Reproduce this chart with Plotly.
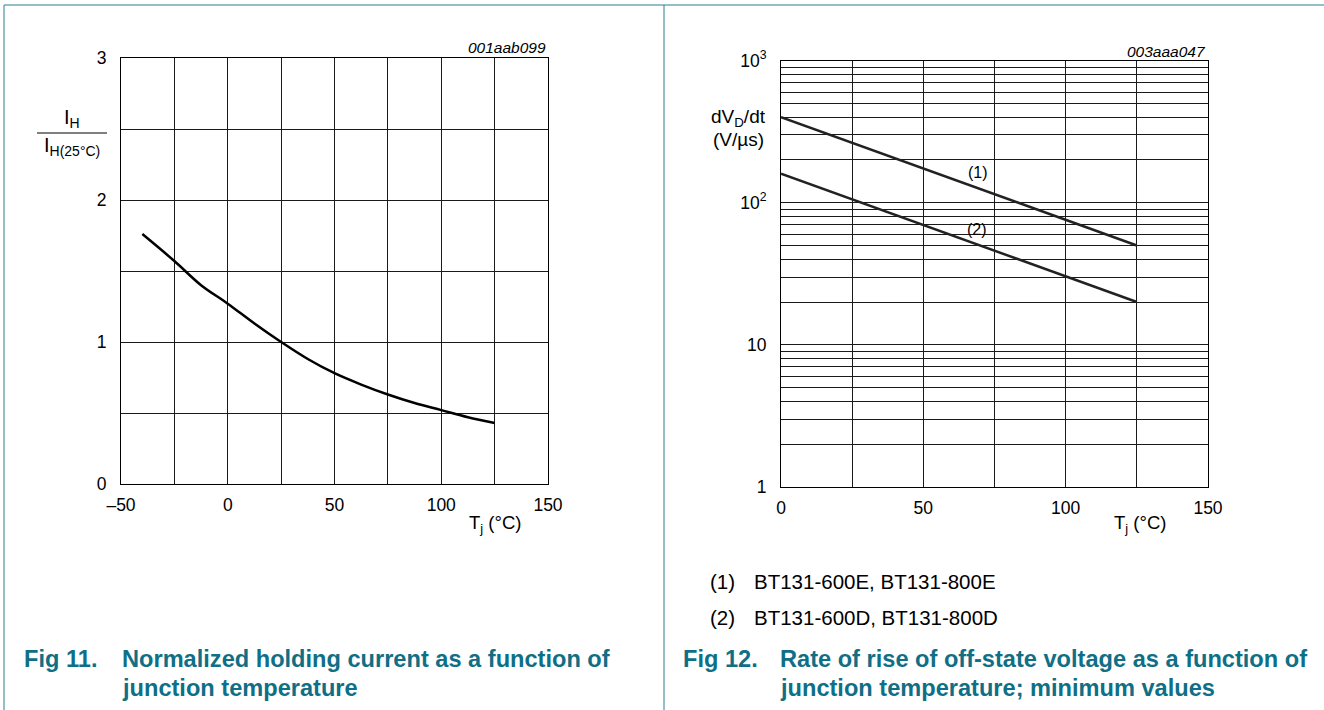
import plotly.graph_objects as go

# ---- data -------------------------------------------------------------
# Fig 11: normalized holding current vs junction temperature
tj_ih = [-40, -25, -12.5, 0, 12.5, 25, 37.5, 50, 62.5, 75, 87.5, 100, 112.5, 125]
ih_norm = [1.76, 1.57, 1.40, 1.27, 1.13, 1.00, 0.88, 0.78, 0.70, 0.63, 0.57, 0.52, 0.47, 0.43]

# Fig 12: minimum dVD/dt vs junction temperature (log scale)
tj_dv = [0, 125]
dvdt_e = [400, 50]   # (1) BT131-600E, BT131-800E
dvdt_d = [160, 20]   # (2) BT131-600D, BT131-800D

left_xticks = [-50, 0, 50, 100, 150]
left_xtext = ["\u201350", "0", "50", "100", "150"]
left_yticks = [0, 1, 2, 3]
right_xticks = [0, 50, 100, 150]
right_yticks = [1, 10, 100, 1000]
right_ytext = ["1", "10", "10<sup>2</sup>", "10<sup>3</sup>"]
right_yminor = [m * d for d in (1, 10, 100) for m in range(2, 10)]

legend_rows = [("(1)", "BT131-600E, BT131-800E"), ("(2)", "BT131-600D, BT131-800D")]

# ---- page geometry (pixels) -------------------------------------------
W, H = 1324, 710
FONT = "Liberation Sans, Arial, Helvetica, sans-serif"
CAP_FONT = "Liberation Sans Narrow, Liberation Sans, Arial, sans-serif"
TEAL = "#0f6f86"
BORDER = "#2a8090"
GRID = "#1a1a1a"


def px(x):
    return x / W


def py(y):
    return 1 - y / H


fig = go.Figure()

fig.add_trace(go.Scatter(x=tj_ih, y=ih_norm, mode="lines",
                         line=dict(color="black", width=2.5, shape="spline"),
                         xaxis="x", yaxis="y", hoverinfo="skip"))
fig.add_trace(go.Scatter(x=tj_dv, y=dvdt_e, mode="lines",
                         line=dict(color="#222", width=2.5),
                         xaxis="x2", yaxis="y2", hoverinfo="skip"))
fig.add_trace(go.Scatter(x=tj_dv, y=dvdt_d, mode="lines",
                         line=dict(color="#222", width=2.5),
                         xaxis="x2", yaxis="y2", hoverinfo="skip"))

tickfont = dict(family=FONT, size=17.5, color="black")
axis_common = dict(showline=True, mirror=True, linecolor="black", linewidth=1,
                   showgrid=True, gridcolor=GRID, gridwidth=1, zeroline=False,
                   ticks="", tickfont=tickfont, fixedrange=True)

fig.update_layout(
    width=W, height=H,
    margin=dict(l=0, r=0, t=0, b=0, autoexpand=False),
    paper_bgcolor="white", plot_bgcolor="white",
    showlegend=False,
    xaxis=dict(axis_common, domain=[px(121), px(548)], range=[-50, 150],
               tickmode="array", tickvals=left_xticks, ticktext=left_xtext,
               ticklabelstandoff=5,
               minor=dict(dtick=25, showgrid=True, gridcolor=GRID, gridwidth=1),
               anchor="y"),
    yaxis=dict(axis_common, domain=[py(484), py(58)], range=[0, 3],
               tickmode="array", tickvals=left_yticks,
               ticklabelstandoff=10,
               minor=dict(dtick=0.5, showgrid=True, gridcolor=GRID, gridwidth=1),
               anchor="x"),
    xaxis2=dict(axis_common, domain=[px(781), px(1208)], range=[0, 150],
                tickmode="array", tickvals=right_xticks,
                ticklabelstandoff=5,
                minor=dict(dtick=25, showgrid=True, gridcolor=GRID, gridwidth=1),
                anchor="y2"),
    yaxis2=dict(axis_common, domain=[py(487), py(60.5)], type="log", range=[0, 3],
                tickmode="array", tickvals=right_yticks, ticktext=right_ytext,
                ticklabelstandoff=10,
                minor=dict(tickmode="array", tickvals=right_yminor, showgrid=True,
                           gridcolor=GRID, gridwidth=1),
                anchor="x2"),
)

shapes = []
# page frame and panel divider
shapes.append(dict(type="line", xref="paper", yref="paper", x0=px(4), x1=1,
                   y0=py(5), y1=py(5), line=dict(color=BORDER, width=1)))
shapes.append(dict(type="line", xref="paper", yref="paper", x0=px(4), x1=px(4),
                   y0=py(5), y1=0, line=dict(color=BORDER, width=1)))
shapes.append(dict(type="line", xref="paper", yref="paper", x0=px(664), x1=px(664),
                   y0=py(5), y1=0, line=dict(color=BORDER, width=1)))
# fraction bar of the left y-axis title
shapes.append(dict(type="line", xref="paper", yref="paper", x0=px(37), x1=px(107),
                   y0=py(133), y1=py(133), line=dict(color="black", width=1)))
# white backgrounds behind the curve labels, above grid but below traces
for (x0, x1, y0, y1) in [(963, 994, 157, 189), (963, 994, 213, 241)]:
    shapes.append(dict(type="rect", xref="paper", yref="paper", layer="between",
                       x0=px(x0), x1=px(x1), y0=py(y1), y1=py(y0),
                       fillcolor="white", line=dict(width=0)))
fig.update_layout(shapes=shapes)

ann = []


def text(x, y, s, size=17.5, xanchor="center", family=FONT, color="black", **kw):
    ann.append(dict(x=px(x), y=py(y), xref="paper", yref="paper", text=s,
                    showarrow=False, xanchor=xanchor, yanchor="middle",
                    font=dict(family=family, size=size, color=color), **kw))


# left chart texts
text(72, 118, "I<sub>H</sub>", size=20)
text(72, 147, "I<sub>H(25\u00b0C)</sub>", size=20)
text(548, 47, "<i>001aab099</i>", size=15.5, xanchor="right")
text(495, 524, "T<sub>j</sub> (\u00b0C)", size=18.5)

# right chart texts
text(738, 118, "dV<sub>D</sub>/dt", size=19)
text(738, 140, "(V/\u00b5s)", size=19)
text(1208, 51, "<i>003aaa047</i>", size=15.5, xanchor="right")
text(1140, 524, "T<sub>j</sub> (\u00b0C)", size=18.5)
text(978, 172, "(1)", size=16)
text(977, 229, "(2)", size=16)

# legend lines under the right chart
for i, (tag, name) in enumerate(legend_rows):
    yy = 581 + 36 * i
    text(708, yy, tag, xanchor="left", size=20.5)
    text(752, yy, name, xanchor="left", size=20.5)

# figure captions
for (x_fig, x_txt, label, lines) in [
    (22, 120, "Fig 11.", ["Normalized holding current as a function of", "junction temperature"]),
    (681, 778, "Fig 12.", ["Rate of rise of off-state voltage as a function of",
                           "junction temperature; minimum values"]),
]:
    text(x_fig, 659, "<b>%s</b>" % label, size=23.6, xanchor="left", family=CAP_FONT, color=TEAL)
    for j, ln in enumerate(lines):
        text(x_txt, 659 + 29 * j, "<b>%s</b>" % ln, size=23.6, xanchor="left",
             family=CAP_FONT, color=TEAL)

fig.update_layout(annotations=ann)
fig.write_html("out.html")
